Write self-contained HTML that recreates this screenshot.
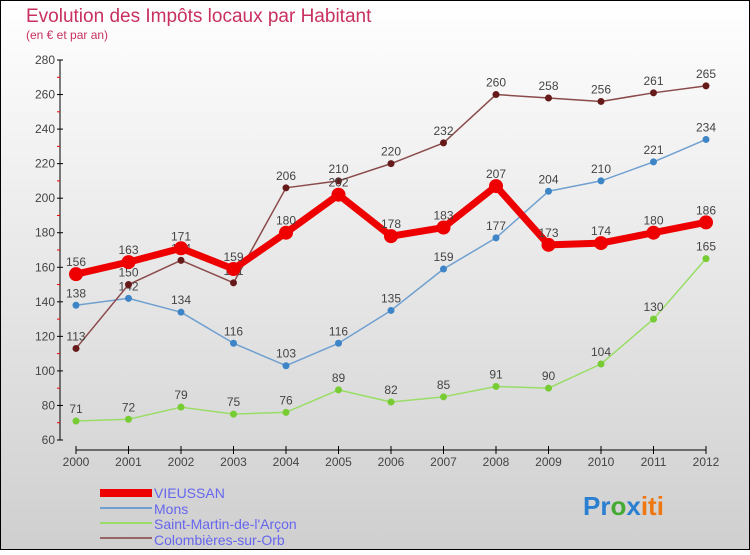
<!DOCTYPE html>
<html><head><meta charset="utf-8"><style>
body{margin:0;}
#c{width:750px;height:550px;position:relative;font-family:"Liberation Sans",sans-serif;}
</style></head><body>
<div id="c">
<svg id="s" width="750" height="550" xmlns="http://www.w3.org/2000/svg">
<defs><linearGradient id="bg" x1="0" y1="0" x2="0" y2="1"><stop offset="0" stop-color="#ffffff"/><stop offset="1" stop-color="#cfcfcf"/></linearGradient></defs>
<rect x="0.5" y="0.5" width="749" height="549" fill="url(#bg)" stroke="#000"/>
<text x="26" y="22" font-size="19" fill="#c8305f">Evolution des Impôts locaux par Habitant</text>
<text x="26" y="39" font-size="12" fill="#c8305f">(en € et par an)</text>
<g id="axes"></g><g id="series"></g>
<g>
<rect x="100" y="489" width="52" height="8" fill="#ee0000"/>
<text x="154" y="498" font-size="14" fill="#6666ee">VIEUSSAN</text>
<line x1="100" y1="508" x2="152" y2="508" stroke="#6fa0d0" stroke-width="2"/>
<text x="154" y="514" font-size="14" fill="#6666ee">Mons</text>
<line x1="100" y1="523" x2="152" y2="523" stroke="#99dd66" stroke-width="2"/>
<text x="154" y="529" font-size="14" fill="#6666ee">Saint-Martin-de-l'Arçon</text>
<line x1="100" y1="538" x2="152" y2="538" stroke="#996666" stroke-width="2"/>
<text x="154" y="545" font-size="14" fill="#6666ee">Colombières-sur-Orb</text>
</g>
<g font-size="26" font-weight="bold">
<text x="583" y="515"><tspan fill="#2a7fd0">Pr</tspan><tspan fill="#44aa33">o</tspan><tspan fill="#2a7fd0">x</tspan><tspan fill="#ee7711">iti</tspan></text>
</g>
</svg>
</div>
<script>
const years=[2000,2001,2002,2003,2004,2005,2006,2007,2008,2009,2010,2011,2012];
const vieussan=[156,163,171,159,180,202,178,183,207,173,174,180,186];
const mons=[138,142,134,116,103,116,135,159,177,204,210,221,234];
const stmartin=[71,72,79,75,76,89,82,85,91,90,104,130,165];
const colomb=[113,150,164,151,206,210,220,232,260,258,256,261,265];
const yTicks=[60,80,100,120,140,160,180,200,220,240,260,280];
const NS="http://www.w3.org/2000/svg";
const X=i=>76+i*52.5;
const Y=v=>440-(v-60)*380/220;
function mk(t,a,p){const e=document.createElementNS(NS,t);for(const k in a)e.setAttribute(k,a[k]);p.appendChild(e);return e;}
const ax=document.getElementById('axes');
let yl=mk('line',{x1:60,y1:60,x2:60,y2:440,stroke:'#000','stroke-width':1},ax);


let xl=mk('line',{x1:76,y1:450,x2:706,y2:450,stroke:'#000','stroke-width':1},ax);


yTicks.forEach(v=>{
 mk('line',{x1:57,y1:Y(v),x2:63,y2:Y(v),stroke:'#000'},ax);
 if(v<280) mk('line',{x1:57,y1:Y(v+10),x2:60,y2:Y(v+10),stroke:'#e00'},ax);
 const t=mk('text',{x:55,y:Y(v)+4,'font-size':12,'text-anchor':'end',fill:'#444'},ax);
 t.textContent=v;
 
 
});
years.forEach((y,i)=>{
 mk('line',{x1:X(i),y1:446,x2:X(i),y2:454,stroke:'#000'},ax);
 const t=mk('text',{x:X(i),y:466,'font-size':12,'text-anchor':'middle',fill:'#444'},ax);
 t.textContent=y;
 
 
});
const sg=document.getElementById('series');
function series(d,col,dot,w,r,name){
 const g=mk('g',{},sg);
 
 
 mk('polyline',{points:d.map((v,i)=>X(i)+','+Y(v)).join(' '),fill:'none',stroke:col,'stroke-width':w,'stroke-linejoin':'round'},g);
 d.forEach((v,i)=>{
  const c=mk('circle',{cx:X(i),cy:Y(v),r:r,fill:dot},g);
  
  
  const t=mk('text',{x:X(i),y:Y(v)-8,'font-size':12,'text-anchor':'middle',fill:'#444'},g);
  t.textContent=v;
 });
}
series(stmartin,'#99dd66','#77cc33',1.5,3.5,'series-saint-martin');
series(mons,'#6fa0d0','#3d85c6',1.5,3.5,'series-mons');
series(colomb,'#8b4a4a','#661a1a',1.5,3.5,'series-colombieres');
series(vieussan,'#ee0000','#ee0000',7,7,'series-vieussan');
</script>
</body></html>
